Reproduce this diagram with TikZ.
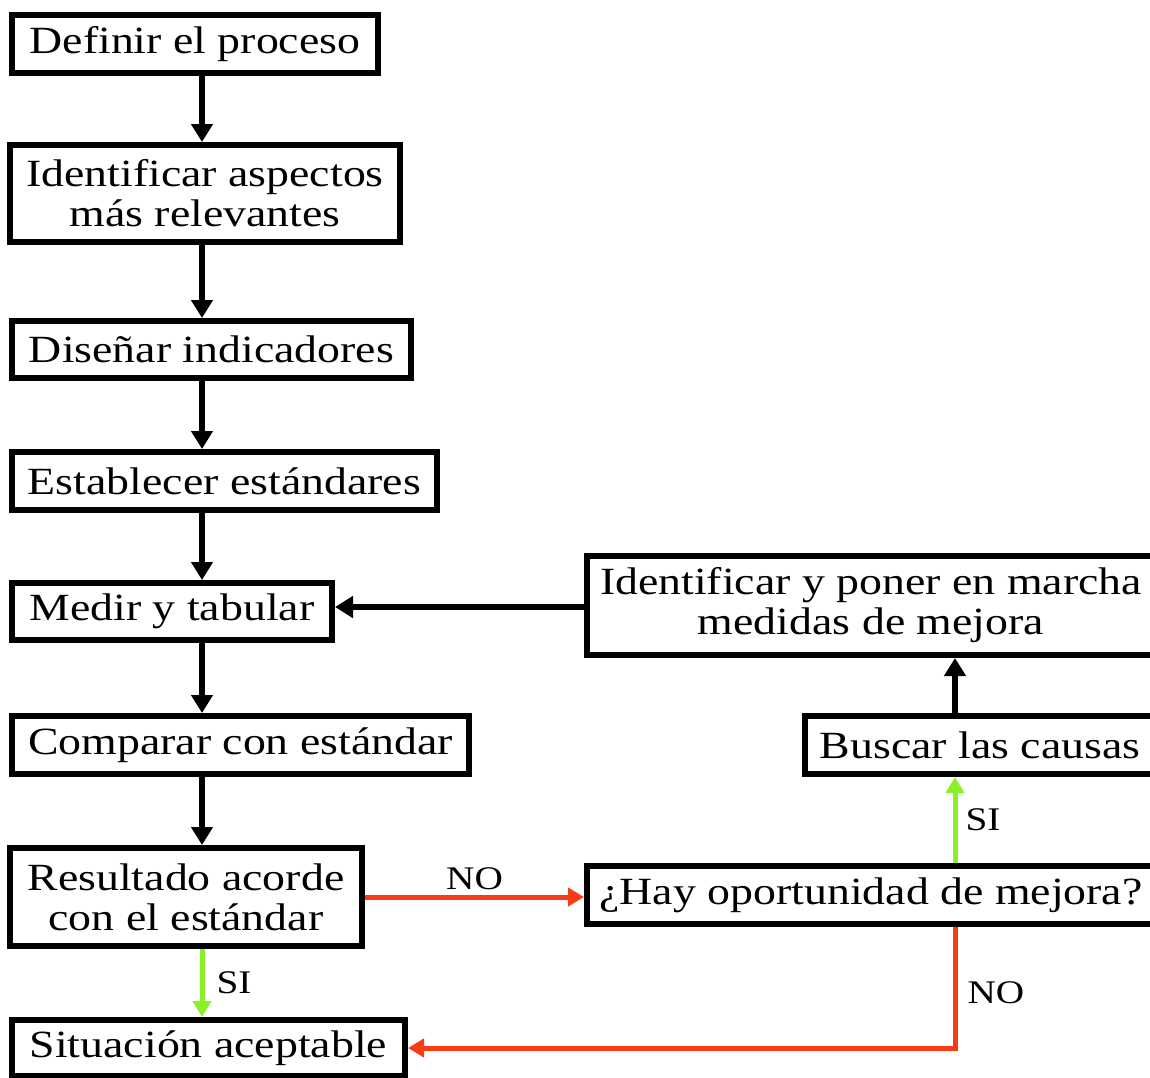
\documentclass[tikz,border=0pt]{standalone}
\usepackage{fontspec}
\setmainfont[FakeStretch=1.19]{Liberation Serif}
\usepackage{tikz}
\usetikzlibrary{positioning,arrows.meta}
\definecolor{nored}{RGB}{245,60,20}
\definecolor{sigreen}{RGB}{140,240,40}
\tikzstyle{box} = [rectangle, draw=black, line width=6pt, inner sep=0pt, align=center, font=\fontsize{38.5}{40}\selectfont]
\tikzstyle{arrow} = [line width=5.5pt, -{Triangle[length=18pt,width=21pt]}]
\tikzstyle{redarrow} = [line width=5pt, draw=nored, -{Triangle[length=16pt,width=18pt]}, color=nored]
\tikzstyle{greenarrow} = [line width=5pt, draw=sigreen, -{Triangle[length=16pt,width=18pt]}, color=sigreen]
\tikzstyle{lbl} = [text=black, font=\fontsize{33}{35}\selectfont, inner sep=2pt]

\begin{document}
\begin{tikzpicture}[x=1pt,y=-1pt]
		\useasboundingbox (0,0) rectangle (1150,1077);
		\coordinate (spine) at (202,0);
		\coordinate (col) at (955,0);
		% Main sequence
		\node[box, minimum width=366pt, minimum height=58pt] (definir) at (195,44) {Definir el proceso};
		\node[box, minimum width=390pt, minimum height=97pt] (aspectos) at (205,193.5) {Identificar aspectos\\más relevantes};
		\node[box, minimum width=399pt, minimum height=57pt] (disenar) at (211.5,349.5) {Diseñar indicadores};
		\node[box, minimum width=425pt, minimum height=58pt] (establecer) at (224.5,481) {Establecer estándares};
		\node[box, minimum width=320pt, minimum height=57pt] (medir) at (172,611.5) {Medir y tabular};
		\node[box, minimum width=457pt, minimum height=58pt] (comparar) at (240.5,745) {Comparar con estándar};
		\node[box, minimum width=352pt, minimum height=98pt] (resultado) at (186,897) {Resultado acorde\\con el estándar};
		\node[box, minimum width=393pt, minimum height=56pt] (situacion) at (208.5,1048) {Situación aceptable};
		% Improvement loop
		\node[box, minimum width=568pt, minimum height=99pt] (medidas) at (871,605.5) {Identificar y poner en marcha\\medidas de mejora};
		\node[box, minimum width=350pt, minimum height=58pt] (buscar) at (980,745) {Buscar las causas};
		\node[box, minimum width=568pt, minimum height=58pt] (hay) at (871,895) {¿Hay oportunidad de mejora?};
		% Arrows
		\draw [arrow] (definir.south -| spine)--(aspectos.north -| spine);
		\draw [arrow] (aspectos.south -| spine)--(disenar.north -| spine);
		\draw [arrow] (disenar.south -| spine)--(establecer.north -| spine);
		\draw [arrow] (establecer.south -| spine)--(medir.north -| spine);
		\draw [arrow] (medir.south -| spine)--(comparar.north -| spine);
		\draw [arrow] (comparar.south -| spine)--(resultado.north -| spine);
		\draw [greenarrow] (resultado.south -| spine)--(situacion.north -| spine) node[lbl, midway, right=10pt] {SI};
		\draw [redarrow] (resultado.east)--(hay.west |- resultado.east) node[lbl, midway, above=3pt] {NO};
		\draw [greenarrow] (hay.north -| col)--(buscar.south -| col) node[lbl, midway, right=6pt] {SI};
		\draw [redarrow] (hay.south -| col) |- (situacion.east) node[lbl, pos=0.27, right=8pt] {NO};
		\draw [arrow] (buscar.north -| col)--(medidas.south -| col);
		\draw [arrow] (medidas.west |- 0,607)--(medir.east |- 0,607);
\end{tikzpicture}
\end{document}
